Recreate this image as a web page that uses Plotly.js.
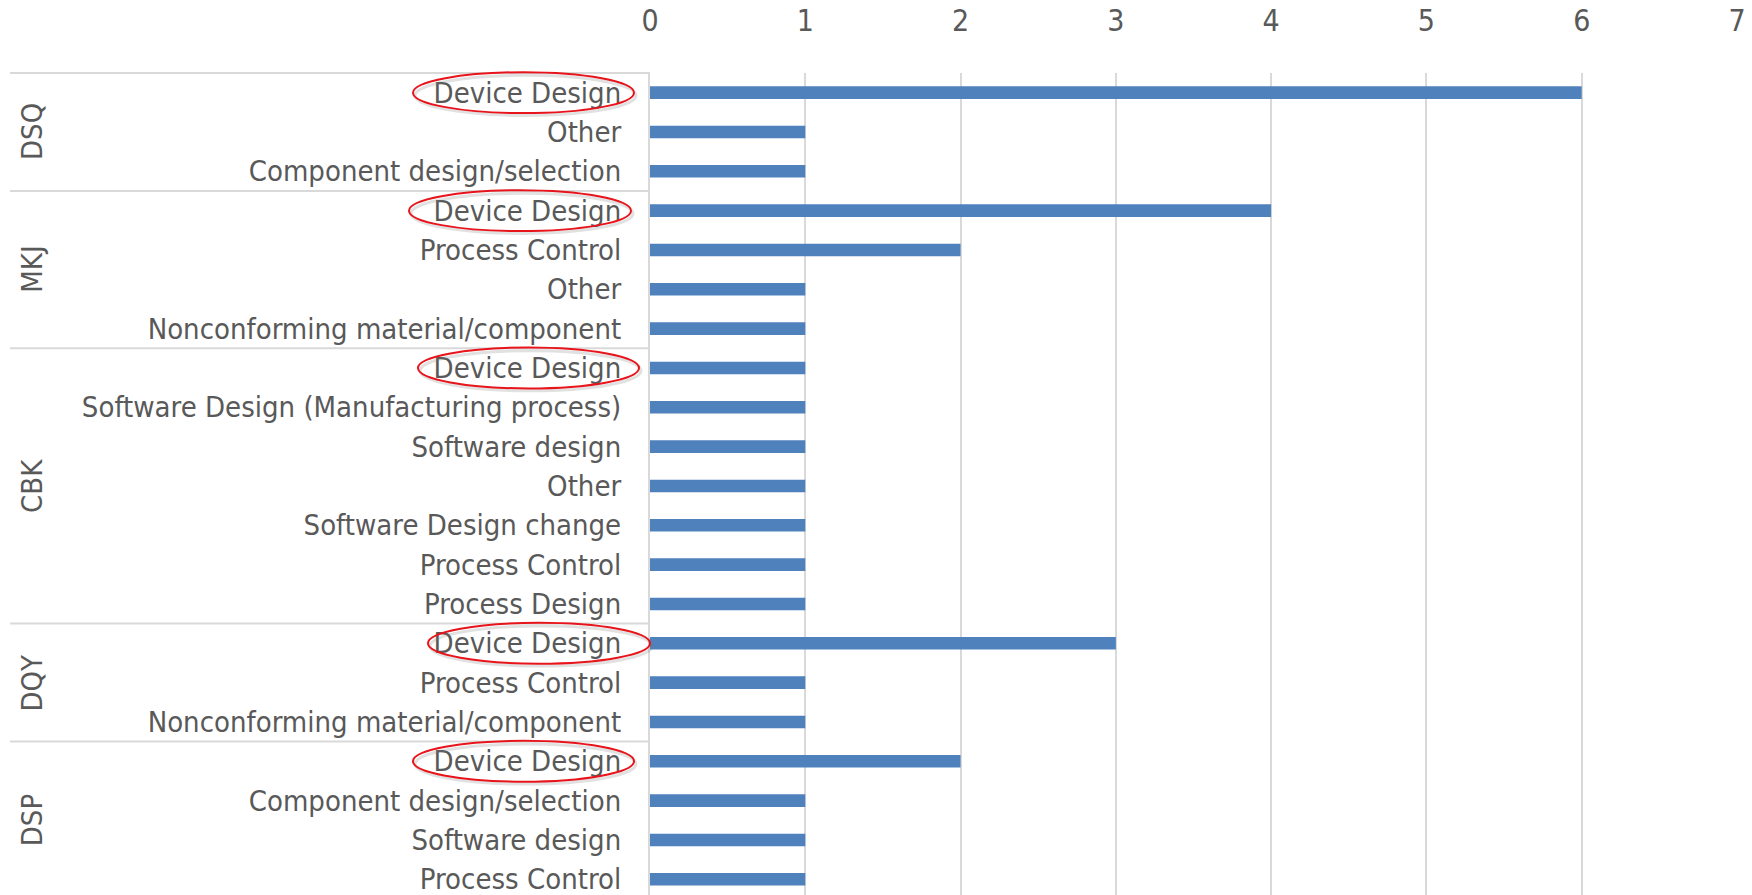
<!DOCTYPE html>
<html>
<head>
<meta charset="utf-8">
<script src="https://cdn.plot.ly/plotly-3.0.1.min.js"></script>
<style>
  html, body { margin: 0; padding: 0; background: #ffffff; }
  #chart { width: 1752px; height: 895px; }
</style>
</head>
<body>
<div id="chart"></div>
<script>
// Complaint root causes per product code
const groups = ["DSQ", "MKJ", "CBK", "DQY", "DSP"];

const dsqCauses = ["Device Design", "Other", "Component design/selection"];
const dsqCounts = [6, 1, 1];

const mkjCauses = ["Device Design", "Process Control", "Other", "Nonconforming material/component"];
const mkjCounts = [4, 2, 1, 1];

const cbkCauses = ["Device Design", "Software Design (Manufacturing process)", "Software design", "Other",
                   "Software Design change", "Process Control", "Process Design"];
const cbkCounts = [1, 1, 1, 1, 1, 1, 1];

const dqyCauses = ["Device Design", "Process Control", "Nonconforming material/component"];
const dqyCounts = [3, 1, 1];

const dspCauses = ["Device Design", "Component design/selection", "Software design", "Process Control"];
const dspCounts = [2, 1, 1, 1];

const xTicks = [0, 1, 2, 3, 4, 5, 6, 7];

// Highlighted cause
const highlight = "Device Design";

const causeLists = [dsqCauses, mkjCauses, cbkCauses, dqyCauses, dspCauses];
const countLists = [dsqCounts, mkjCounts, cbkCounts, dqyCounts, dspCounts];

// Flatten into one row per bar, top to bottom
const rowPos = [], rowLabel = [], rowValue = [];
const groupSpans = [];
let r = 0;
causeLists.forEach((causes, g) => {
  const start = r;
  causes.forEach((c, i) => {
    rowPos.push(r);
    rowLabel.push(c);
    rowValue.push(countLists[g][i]);
    r++;
  });
  groupSpans.push([start, r - 1]);
});

const W = 1752, H = 895;
const M = { l: 650, r: 15, t: 73, b: 0 };
const plotW = W - M.l - M.r;
const yRange = [rowPos.length - 0.6, -0.5];
const FONT = '"DejaVu Sans Condensed", sans-serif';
const FSIZE = 29;
const TXT = '#595959';
const GRID = '#d9d9d9';

// Helpers: data row -> paper y, pixel offset from the plot's left edge -> paper x
const py = v => (yRange[0] - v) / (yRange[0] - yRange[1]);
const px = p => p / plotW;

const shapes = [];
const annotations = [];

// Divider lines between product codes, drawn left of the category axis
const boundaries = [-0.5].concat(groupSpans.map(s => s[1] + 0.5));
boundaries.slice(0, -1).forEach(b => {
  shapes.push({
    type: 'line', layer: 'below',
    xref: 'paper', x0: px(-640), x1: 0,
    yref: 'paper', y0: py(b), y1: py(b),
    line: { color: GRID, width: 2 }
  });
});

// Rotated product code labels
groups.forEach((g, i) => {
  const mid = (groupSpans[i][0] + groupSpans[i][1]) / 2;
  annotations.push({
    text: g, xref: 'paper', x: px(32 - M.l), yref: 'paper', y: py(mid),
    textangle: -90, showarrow: false, xanchor: 'center', yanchor: 'middle',
    font: { family: FONT, size: FSIZE, color: TXT }
  });
});

// Red ellipses around the highlighted cause in each group
const ellipseOffsets = [[-237, -16], [-241, -19], [-232, -11], [-222, 0], [-237, -16]];
rowLabel.forEach((lab, i) => {
  if (lab !== highlight) return;
  const g = groupSpans.findIndex(s => i >= s[0] && i <= s[1]);
  const [a, b] = ellipseOffsets[g];
  // soft shadow
  shapes.push({
    type: 'circle', layer: 'above',
    xref: 'paper', x0: px(a + 2), x1: px(b + 2),
    yref: 'paper', y0: py(rowPos[i] - 0.44), y1: py(rowPos[i] + 0.58),
    line: { color: 'rgba(120,120,120,0.22)', width: 3 }
  });
  shapes.push({
    type: 'circle', layer: 'above',
    xref: 'paper', x0: px(a), x1: px(b),
    yref: 'paper', y0: py(rowPos[i] - 0.52), y1: py(rowPos[i] + 0.52),
    line: { color: '#e8141b', width: 2 }
  });
});

const trace = {
  type: 'bar', orientation: 'h',
  x: rowValue, y: rowPos,
  width: 0.32,
  marker: { color: '#4f81bd', line: { width: 0 } },
  hoverinfo: 'skip'
};

const layout = {
  width: W, height: H,
  margin: M,
  paper_bgcolor: '#ffffff', plot_bgcolor: '#ffffff',
  showlegend: false,
  xaxis: {
    side: 'top', range: [0, 7], tickvals: xTicks, ticktext: xTicks.map(String),
    showgrid: true, gridcolor: GRID, gridwidth: 2,
    zeroline: false, showline: false, ticks: '',
    ticklabelstandoff: 35,
    tickfont: { family: FONT, size: 30, color: TXT }
  },
  yaxis: {
    range: yRange,
    tickvals: rowPos, ticktext: rowLabel,
    showgrid: false, zeroline: false,
    showline: true, linecolor: GRID, linewidth: 2,
    ticks: '', ticklabelstandoff: 21, ticklabeloverflow: 'allow',
    tickfont: { family: FONT, size: FSIZE, color: TXT }
  },
  shapes: shapes,
  annotations: annotations
};

Plotly.newPlot('chart', [trace], layout, { staticPlot: true, displayModeBar: false });
</script>
</body>
</html>
